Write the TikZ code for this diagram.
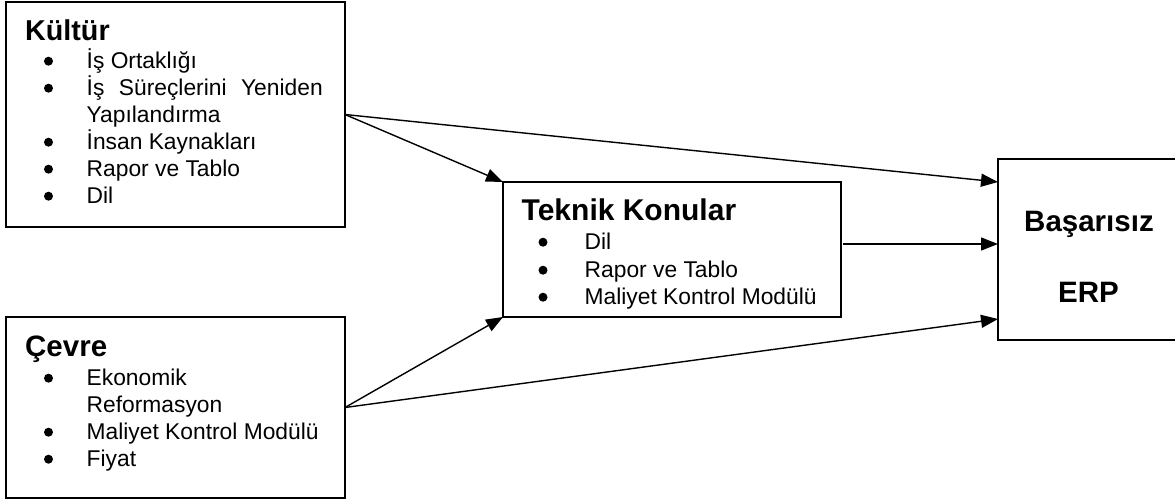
\documentclass[tikz,border=0pt]{standalone}
\usepackage{fontspec}
\setmainfont{Liberation Sans}
\usetikzlibrary{arrows.meta}
\tikzset{
  box/.style={draw, line width=1.7pt, outer sep=0pt, inner sep=0pt},
  ttl/.style={font=\fontsize{29.5}{29.5}\selectfont\bfseries, anchor=base west, inner sep=0pt},
  ctr/.style={font=\fontsize{29.5}{29.5}\selectfont\bfseries, anchor=base, inner sep=0pt},
  itm/.style={font=\fontsize{22.8}{27}\selectfont, anchor=base west, inner sep=0pt},
  arr/.style={line width=1.4pt, -{Triangle[length=17pt,width=13pt]}},
}
\newcommand\blt[2]{\fill (#1,#2-6.8) circle (4.5pt);}
\begin{document}
\begin{tikzpicture}[x=1pt,y=-1pt]
\useasboundingbox (0,0) rectangle (1175,501);
% boxes
\node[box, minimum width=339pt, minimum height=225pt] (kultur) at (175.5,114.5) {};
\node[box, minimum width=339pt, minimum height=181pt] (cevre) at (175.5,407.5) {};
\node[box, minimum width=338pt, minimum height=135pt] (teknik) at (672,249.5) {};
\node[box, minimum width=179pt, minimum height=181pt] (basarisiz) at (1087.5,249.5) {};
% Kültür
\node[ttl, font=\fontsize{28.7}{28.7}\selectfont\bfseries] (kt) at (25,40) {Kültür};
\node[itm] (k1) at (86.5,68) {İş Ortaklığı};
\node[itm] (k2) at (86.5,95) {\makebox[236pt][s]{İş Süreçlerini Yeniden}};
\node[itm] (k3) at (86.5,122) {Yapılandırma};
\node[itm] (k4) at (86.5,149) {İnsan Kaynakları};
\node[itm] (k5) at (86.5,176) {Rapor ve Tablo};
\node[itm] (k6) at (86.5,203) {Dil};
\blt{48.5}{68}\blt{48.5}{95}\blt{48.5}{149}\blt{48.5}{176}\blt{48.5}{203}
% Çevre
\node[ttl] (ct) at (25,356) {Çevre};
\node[itm] (c1) at (86.5,385) {Ekonomik};
\node[itm] (c2) at (86.5,412) {Reformasyon};
\node[itm] (c3) at (86.5,439) {Maliyet Kontrol Modülü};
\node[itm] (c4) at (86.5,466) {Fiyat};
\blt{48.5}{385}\blt{48.5}{439}\blt{48.5}{466}
% Teknik Konular
\node[ttl, font=\fontsize{30}{30}\selectfont\bfseries] (tt) at (521.5,220) {Teknik Konular};
\node[itm] (t1) at (584.5,249) {Dil};
\node[itm] (t2) at (584.5,277) {Rapor ve Tablo};
\node[itm] (t3) at (584.5,304) {Maliyet Kontrol Modülü};
\blt{543}{249}\blt{543}{277}\blt{543}{304}
% Başarısız ERP
\node[ctr] (b1) at (1089,231) {Başarısız};
\node[ctr] (b2) at (1088.5,302) {ERP};
% arrows
\draw[arr] (kultur.east) -- (teknik.north west);
\draw[arr] (kultur.east) -- ([yshift=-23pt]basarisiz.north west);
\draw[arr, shorten <=2pt] ([yshift=5.5pt]teknik.east) -- ([yshift=5.5pt]basarisiz.west);
\draw[arr] (cevre.east) -- (teknik.south west);
\draw[arr] (cevre.east) -- ([yshift=21pt]basarisiz.south west);
\end{tikzpicture}
\end{document}
